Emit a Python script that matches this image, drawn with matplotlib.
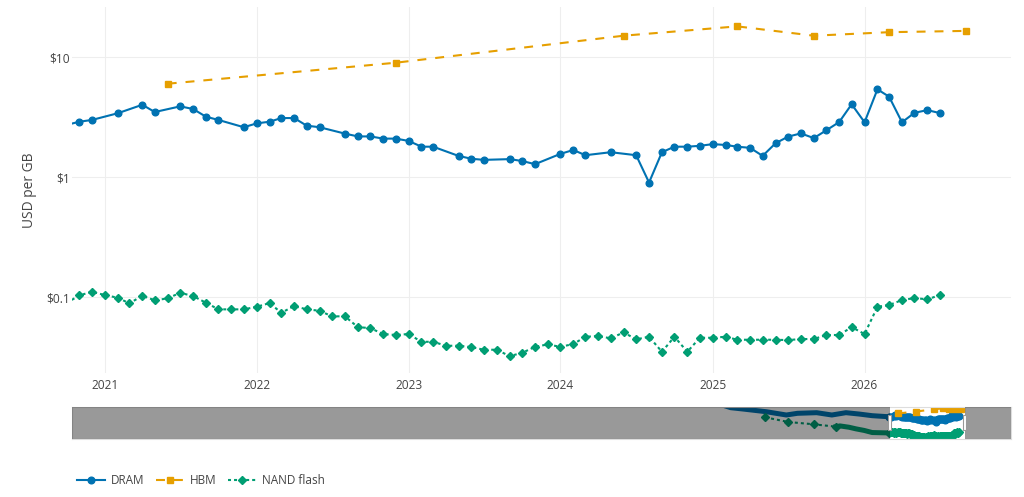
import numpy as np
import pandas as pd
import matplotlib
matplotlib.use("Agg")
import matplotlib.pyplot as plt
import matplotlib.dates as mdates
import matplotlib.transforms as mtransforms
from matplotlib.patches import Rectangle

plt.rcParams['font.family'] = ['Open Sans', 'DejaVu Sans']

# ---------------- data ----------------
dram_dates = ['2020-10', '2020-11', '2020-12', '2021-02', '2021-04', '2021-05', '2021-07', '2021-08',
              '2021-09', '2021-10', '2021-12', '2022-01', '2022-02', '2022-03', '2022-04', '2022-05',
              '2022-06', '2022-08', '2022-09', '2022-10', '2022-11', '2022-12', '2023-01', '2023-02',
              '2023-03', '2023-05', '2023-06', '2023-07', '2023-09', '2023-10', '2023-11', '2024-01',
              '2024-02', '2024-03', '2024-05', '2024-07', '2024-08', '2024-09', '2024-10', '2024-11',
              '2024-12', '2025-01', '2025-02', '2025-03', '2025-04', '2025-05', '2025-06', '2025-07',
              '2025-08', '2025-09', '2025-10', '2025-11', '2025-12', '2026-01', '2026-02', '2026-03',
              '2026-04', '2026-05', '2026-06', '2026-07']
dram_values = [2.72, 2.89, 2.99, 3.40, 4.00, 3.48, 3.88, 3.69, 3.18, 2.99, 2.60,
               2.80, 2.89, 3.10, 3.10, 2.68, 2.60, 2.30, 2.18, 2.18, 2.09, 2.09,
               2.00, 1.79, 1.79, 1.50, 1.42, 1.39, 1.41, 1.36, 1.28,
               1.56, 1.68, 1.52, 1.61, 1.52, 0.90, 1.61, 1.79, 1.79, 1.82,
               1.88, 1.85, 1.79, 1.75, 1.50, 1.91, 2.17, 2.31, 2.11, 2.45, 2.87, 4.04,
               2.86, 5.38, 4.67, 2.86, 3.43, 3.61, 3.41]

hbm_dates = ['2021-06', '2022-12', '2024-06', '2025-03', '2025-09', '2026-03', '2026-09']
hbm_values = [5.99, 8.96, 15.05, 18.0, 15.05, 16.1, 16.5]

nand_start = '2020-10-01'
nand_values = [0.0893, 0.1033, 0.1107,
               0.1039, 0.0987, 0.0886, 0.1026, 0.0939, 0.0975, 0.1086, 0.1019, 0.0897, 0.0790, 0.0790, 0.0790,
               0.0830, 0.0891, 0.0740, 0.0841, 0.0790, 0.0769, 0.0691, 0.0691, 0.0562, 0.0551, 0.0492, 0.0483,
               0.0492, 0.0424, 0.0424, 0.0393, 0.0393, 0.0383, 0.0364, 0.0364, 0.0322, 0.0343, 0.0385, 0.0403,
               0.0385, 0.0406, 0.0467, 0.0473, 0.0453, 0.0508, 0.0444, 0.0467, 0.0350, 0.0467, 0.0350, 0.0458,
               0.0458, 0.0467, 0.0441, 0.0441, 0.0441, 0.0441, 0.0438, 0.0447, 0.0447, 0.0483, 0.0483, 0.0562,
               0.0492, 0.0830, 0.0858, 0.0944, 0.0981, 0.0957, 0.1039]

# earlier history only visible in the range slider
dram_hist_dates = ['2006-06', '2007-09', '2008-09', '2010-08', '2012-04', '2013-03', '2014-10',
                   '2016-01', '2017-03', '2018-04', '2019-05', '2020-08']
dram_hist_values = [60, 21, 15.8, 8.8, 4.3, 6.2, 7.1, 4.3, 7.1, 5.3, 3.7, 3.0]
nand_hist_dates = ['2010-07', '2012-06', '2014-07', '2016-05', '2016-09', '2017-06', '2018-01',
                   '2018-09', '2019-05', '2020-03', '2020-08']
nand_hist_values = [2.6, 0.94, 0.57, 0.34, 0.40, 0.30, 0.21, 0.15, 0.095, 0.09, 0.088]

series_names = ['DRAM', 'HBM', 'NAND flash']
y_ticks = [0.1, 1, 10]
y_tick_labels = ['$0.1', '$1', '$10']
x_tick_years = [2021, 2022, 2023, 2024, 2025, 2026]

main_range = ('2020-10-14', '2026-12-19')
slider_range = ('1953-05-07', '2030-10-10')
y_range = (0.0233, 26.1)

# ---------------- styling ----------------
C_DRAM, C_HBM, C_NAND = '#0072B2', '#E69F00', '#009E73'
TXT = '#444444'
GRID = '#eeeeee'

d_dram = pd.to_datetime(dram_dates)
d_hbm = pd.to_datetime(hbm_dates)
d_nand = pd.date_range(nand_start, periods=len(nand_values), freq='MS')
d_dram_h = pd.to_datetime(dram_hist_dates)
d_nand_h = pd.to_datetime(nand_hist_dates)

W, H = 1024, 497
fig = plt.figure(figsize=(W / 100, H / 100), dpi=100)
ax = fig.add_axes([72 / W, 1 - 373 / H, 939 / W, 366 / H])
ax2 = fig.add_axes([72 / W, 1 - 439 / H, 939 / W, 32.3 / H])

lw = 1.5
styles = dict(
    dram=dict(color=C_DRAM, lw=lw, marker='o', ms=4.8, linestyle='-'),
    hbm=dict(color=C_HBM, lw=lw, marker='s', ms=4.5, linestyle=(0, (4.3, 4.3))),
    nand=dict(color=C_NAND, lw=lw, marker='D', ms=4.0, linestyle=(0, (1.45, 1.45))),
)

l1, = ax.plot(d_dram, dram_values, label=series_names[0], **styles['dram'])
l2, = ax.plot(d_hbm, hbm_values, label=series_names[1], **styles['hbm'])
l3, = ax.plot(d_nand, nand_values, label=series_names[2], **styles['nand'])

ax.set_yscale('log')
ax.set_ylim(*y_range)
ax.set_xlim(pd.Timestamp(main_range[0]), pd.Timestamp(main_range[1]))
ax.set_yticks(y_ticks)
ax.set_yticklabels(y_tick_labels)
ax.yaxis.set_minor_locator(matplotlib.ticker.NullLocator())
ax.set_xticks([pd.Timestamp(f'{y}-01-01') for y in x_tick_years])
ax.xaxis.set_major_formatter(mdates.DateFormatter('%Y'))
ax.tick_params(axis='both', length=0, colors=TXT, labelsize=8.6)
ax.tick_params(axis='y', pad=1.5)
ax.tick_params(axis='x', pad=4.5)
ax.grid(True, color=GRID, lw=0.8)
ax.set_axisbelow(True)
for s in ax.spines.values():
    s.set_visible(False)
ax.set_ylabel('USD per GB', color=TXT, fontsize=9.9)
ax.yaxis.set_label_coords(-0.0375, 0.5)

# ---------------- range slider ----------------
ax2.set_yscale('log')
ax2.set_ylim(*y_range)
s0, s1 = pd.Timestamp(slider_range[0]), pd.Timestamp(slider_range[1])
w0, w1 = pd.Timestamp(main_range[0]), pd.Timestamp(main_range[1])
ax2.set_xlim(s0, s1)
ax2.plot(d_dram_h, dram_hist_values, color=C_DRAM, lw=3.6, solid_joinstyle='round')
ax2.plot(d_nand_h[:4], nand_hist_values[:4], color=C_NAND, lw=lw, marker='D', ms=4.0,
         linestyle=(0, (1.45, 1.45)))
ax2.plot(d_nand_h[3:], nand_hist_values[3:], color=C_NAND, lw=3.6, solid_joinstyle='round')
ax2.plot(d_dram, dram_values, **styles['dram'])
ax2.plot(d_hbm, hbm_values, **styles['hbm'])
ax2.plot(d_nand, nand_values, **styles['nand'])
ax2.axvspan(s0, w0, color='black', alpha=0.4, lw=0, zorder=5)
ax2.axvspan(w1, s1, color='black', alpha=0.4, lw=0, zorder=5)
trans = mtransforms.blended_transform_factory(ax2.transData, ax2.transAxes)
hw = pd.Timedelta(days=95)
for wx in (w0, w1):
    ax2.add_patch(Rectangle((mdates.date2num(wx - hw / 2), 0.27), hw.days, 0.47,
                            transform=trans, facecolor='white', edgecolor='#999999',
                            lw=0.8, zorder=6, clip_on=False))
ax2.set_xticks([])
ax2.set_yticks([])
ax2.yaxis.set_minor_locator(matplotlib.ticker.NullLocator())
for s in ax2.spines.values():
    s.set_color('#dddddd')
    s.set_linewidth(0.8)

# ---------------- legend ----------------
fig.legend(handles=[l1, l2, l3], labels=series_names, loc='center left',
           bbox_to_anchor=(77 / W, 1 - 481 / H), ncol=3, frameon=False,
           fontsize=8.5, labelcolor=TXT, handlelength=2.35, handletextpad=0.55,
           columnspacing=0.95, borderpad=0, borderaxespad=0, numpoints=1)

fig.savefig('out.png', dpi=100)
